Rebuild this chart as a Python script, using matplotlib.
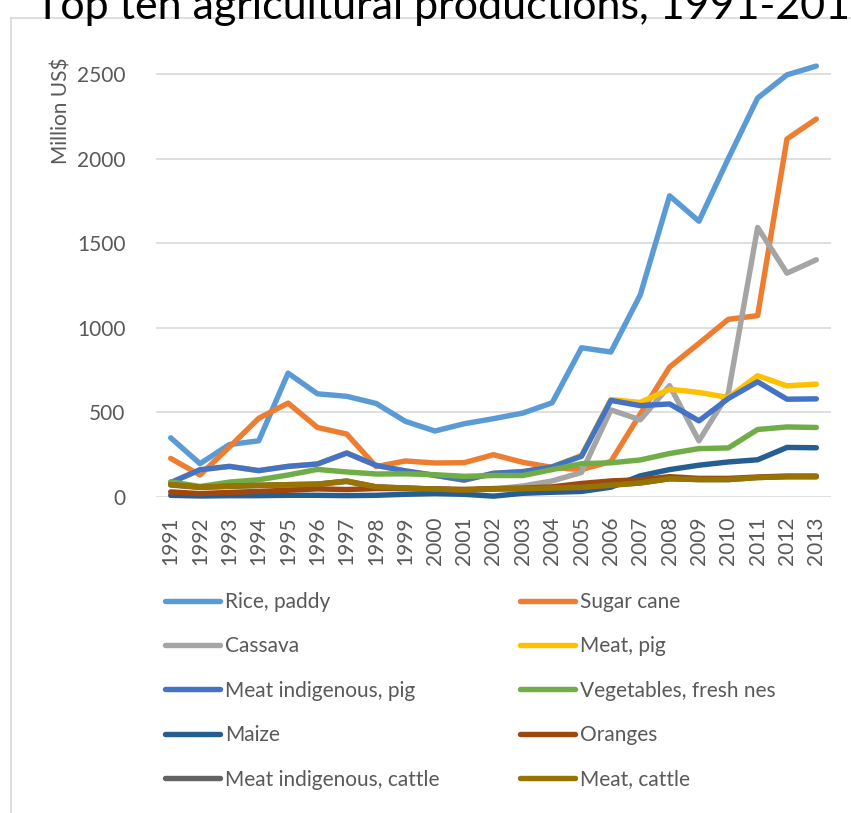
import matplotlib
matplotlib.use("Agg")
import matplotlib.pyplot as plt
from matplotlib.lines import Line2D

plt.rcParams['font.family'] = ['Lato', 'DejaVu Sans']

years = list(range(1991, 2014))
year_labels = [str(y) for y in years]

rice = [350, 197, 310, 332, 732, 610, 595, 553, 447, 390, 433, 463, 496, 557, 882, 857, 1194, 1780, 1630, 2000, 2358, 2495, 2547]
sugar_cane = [228, 130, 295, 465, 555, 411, 372, 180, 213, 201, 203, 250, 205, 175, 162, 210, 490, 768, 908, 1050, 1072, 2116, 2234]
cassava = [70, 56, 62, 67, 71, 74, 90, 58, 51, 45, 40, 47, 65, 95, 145, 515, 456, 658, 332, 612, 1593, 1323, 1402]
meat_pig = [85, 161, 181, 156, 181, 195, 260, 187, 154, 128, 100, 140, 150, 178, 246, 576, 559, 637, 618, 588, 717, 657, 667]
meat_indig_pig = [85, 161, 181, 156, 181, 195, 260, 187, 154, 128, 100, 140, 150, 178, 241, 571, 540, 550, 450, 582, 681, 578, 580]
vegetables = [90, 62, 88, 102, 130, 163, 148, 136, 137, 132, 122, 127, 127, 162, 197, 202, 219, 257, 286, 290, 399, 414, 411]
maize = [10, 6, 8, 8, 10, 10, 8, 10, 16, 20, 16, 5, 22, 28, 33, 58, 125, 162, 188, 207, 220, 293, 291]
oranges = [30, 20, 27, 33, 40, 48, 44, 50, 50, 48, 45, 50, 52, 60, 80, 95, 102, 120, 110, 110, 118, 124, 124]
meat_indig_cattle = [73, 58, 64, 69, 73, 76, 94, 60, 53, 47, 41, 48, 49, 53, 57, 70, 83, 108, 103, 103, 115, 120, 120]
meat_cattle = [73, 58, 64, 69, 73, 76, 94, 60, 53, 47, 41, 48, 49, 53, 57, 70, 83, 108, 103, 103, 115, 120, 120]

series_names = ["Rice, paddy", "Sugar cane", "Cassava", "Meat, pig", "Meat indigenous, pig",
                "Vegetables, fresh nes", "Maize", "Oranges", "Meat indigenous, cattle", "Meat, cattle"]
series_values = [rice, sugar_cane, cassava, meat_pig, meat_indig_pig,
                 vegetables, maize, oranges, meat_indig_cattle, meat_cattle]
colors = ["#5B9BD5", "#ED7D31", "#A5A5A5", "#FFC000", "#4472C4",
          "#70AD47", "#255E91", "#9E480E", "#636363", "#997300"]

W, H = 851, 813
fig = plt.figure(figsize=(W / 100, H / 100), dpi=100)

def fx(px):
    return px / W

def fy(py):
    return (H - py) / H

ax = fig.add_axes([fx(156), fy(497), (831 - 156) / W, (497 - 40) / H])

handles = []
for name, vals, c in zip(series_names, series_values, colors):
    h, = ax.plot(years, vals, color=c, lw=3.9, label=name,
                 solid_capstyle='round', solid_joinstyle='round', clip_on=False)
    handles.append(h)

ax.set_xlim(1990.5, 2013.5)
ax.set_ylim(0, 2701)
ax.set_yticks([0, 500, 1000, 1500, 2000, 2500])
ax.set_xticks(years)
ax.set_xticklabels(year_labels, rotation=90)
ax.grid(axis='y', color='#D9D9D9', lw=1.2)
ax.set_axisbelow(True)
for s in ax.spines.values():
    s.set_visible(False)
ax.tick_params(axis='both', length=0, labelsize=15, labelcolor='#595959')
ax.tick_params(axis='y', pad=22)
ax.tick_params(axis='x', pad=14)

fig.text(fx(61), fy(111), "Million US$", rotation=90, ha='center', va='center',
         fontsize=15, color='#595959')

# chart border
fig.add_artist(Line2D([fx(11), fx(11)], [fy(18), fy(813)], transform=fig.transFigure,
                      color='#D9D9D9', lw=1.2))
fig.add_artist(Line2D([fx(11), fx(851)], [fy(18), fy(18)], transform=fig.transFigure,
                      color='#D9D9D9', lw=1.2))

fig.text(fx(35), fy(19), "Top ten agricultural productions, 1991-2013", ha='left',
         va='baseline', fontsize=31, color='black', zorder=5)

col1 = [handles[i] for i in (0, 2, 4, 6, 8)]
col2 = [handles[i] for i in (1, 3, 5, 7, 9)]
for hs, x0 in ((col1, 165), (col2, 520)):
    leg = fig.legend(handles=hs, labels=[h.get_label() for h in hs], loc='upper left',
                     bbox_to_anchor=(fx(x0), fy(592)), frameon=False, fontsize=15,
                     borderpad=0, borderaxespad=0, handlelength=2.64, handletextpad=0.24,
                     labelspacing=1.17)
    for t in leg.get_texts():
        t.set_color('#595959')

fig.savefig("out.png", dpi=100)
